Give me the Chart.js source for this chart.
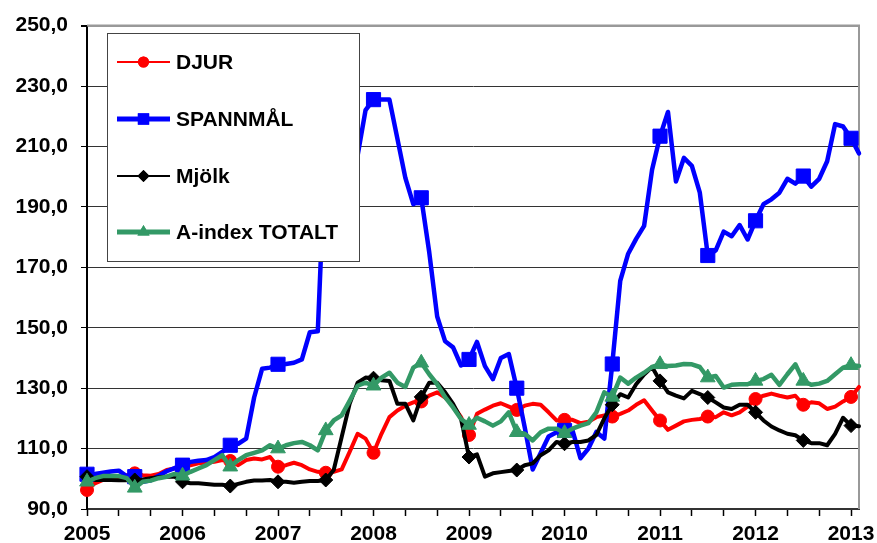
<!DOCTYPE html>
<html>
<head>
<meta charset="utf-8">
<script src="https://cdn.jsdelivr.net/npm/chart.js@4.4.1/dist/chart.umd.min.js"></script>
<style>
  body { margin: 0; background: #fff; }
  #wrap { width: 877px; height: 543px; }
</style>
</head>
<body>
<div id="wrap"><canvas id="chart" width="877" height="543"></canvas></div>
<script>
// tick labels (one per year) and months per year
const years = ['2005', '2006', '2007', '2008', '2009', '2010', '2011', '2012', '2013'];
const monthsInLastYear = 2; // Jan + Feb 2013

// monthly index values, Jan 2005 - Feb 2013
const djur = [
  96.3, 98.5, 99.6, 99.8, 99.6, 101.2, 101.8, 101.2, 101.0, 101.6, 102.9, 103.4,
  104.0, 104.5, 105.1, 105.3, 105.6, 106.2, 105.9, 104.5, 106.2, 106.7, 106.4, 107.2,
  104.0, 104.5, 105.3, 104.5, 103.1, 102.3, 102.0, 102.3, 103.1, 108.9, 114.9, 113.3,
  108.6, 114.9, 120.4, 122.6, 124.2, 125.3, 125.6, 127.5, 128.6, 126.9, 124.2, 120.4,
  114.5, 121.5, 122.9, 124.2, 125.0, 123.9, 122.8, 124.2, 124.8, 124.5, 122.0, 119.3,
  119.5, 119.5, 118.4, 118.9, 120.4, 121.0, 120.6, 121.5, 122.6, 124.5, 126.0, 122.6,
  119.3, 116.2, 117.6, 119.0, 119.5, 119.8, 120.6, 120.4, 122.0, 121.0, 122.0, 123.9,
  126.4, 127.5, 128.2, 127.5, 126.9, 127.5, 124.5, 125.3, 125.0, 123.1, 123.9, 125.6,
  127.1, 130.4
];
const spannmal = [
  101.5, 101.6, 102.0, 102.4, 102.7, 100.8, 100.7, 99.0, 99.5, 101.0, 102.5, 103.5,
  104.5, 105.6, 106.0, 106.2, 107.2, 108.9, 111.1, 111.6, 113.3, 126.9, 136.4, 136.8,
  137.9, 138.0, 138.4, 139.5, 148.5, 148.8, 212.0, 208.0, 205.0, 204.0, 207.0, 222.0,
  225.5, 225.5, 225.5, 212.6, 199.6, 190.9, 193.0, 175.0, 153.7, 145.5, 143.5, 137.5,
  139.5, 145.3, 137.3, 133.0, 140.0, 141.3, 130.0, 117.0, 103.1, 108.5, 114.0, 115.4,
  116.0, 116.0, 106.8, 110.0, 115.5, 113.3, 138.0, 165.5, 174.5, 179.4, 183.7, 202.3,
  213.4, 221.4, 198.4, 206.2, 203.6, 194.7, 173.9, 175.6, 181.8, 180.3, 184.0, 179.2,
  185.4, 190.9, 192.5, 194.7, 199.3, 197.7, 200.2, 196.7, 199.3, 205.1, 217.4, 216.6,
  212.7, 207.7
];
const mjolk = [
  100.7, 99.6, 99.6, 99.6, 99.5, 99.5, 99.6, 99.8, 100.2, 100.5, 100.7, 100.7,
  99.0, 98.5, 98.5, 98.3, 98.0, 98.0, 97.6, 98.3, 99.0, 99.4, 99.4, 99.6,
  99.0, 99.0, 98.7, 99.0, 99.3, 99.3, 99.6, 102.9, 113.8, 124.8, 131.8, 133.5,
  133.3, 132.6, 132.4, 124.8, 124.8, 119.3, 127.1, 131.8, 131.8, 128.6, 124.8, 119.8,
  107.2, 108.1, 100.7, 101.8, 102.2, 102.6, 102.9, 104.5, 105.1, 107.8, 109.4, 112.2,
  111.6, 112.2, 112.2, 112.7, 114.5, 120.0, 124.5, 128.0, 126.9, 131.3, 134.5, 137.0,
  132.4, 128.6, 127.5, 126.6, 129.1, 128.0, 126.9, 125.3, 123.6, 123.1, 124.5, 124.5,
  122.0, 119.3, 117.3, 116.0, 114.9, 114.4, 112.7, 111.8, 111.8, 111.1, 114.9, 120.2,
  117.6, 117.4
];
const atotalt = [
  99.0, 100.2, 100.9, 100.9, 100.9, 100.2, 97.0, 99.0, 99.4, 100.2, 100.7, 101.6,
  101.0, 102.3, 103.4, 104.5, 106.2, 107.8, 104.0, 106.2, 107.8, 108.6, 109.4, 111.1,
  110.0, 111.1, 111.8, 112.2, 111.1, 109.4, 116.0, 119.3, 121.0, 125.8, 130.8, 131.8,
  130.8, 133.5, 135.1, 131.8, 130.4, 136.8, 138.4, 134.6, 131.3, 127.0, 123.6, 119.8,
  117.8, 120.2, 119.0, 117.6, 119.0, 122.0, 115.4, 114.9, 112.7, 115.4, 116.6, 116.6,
  115.1, 116.6, 117.6, 118.4, 122.0, 128.6, 127.1, 133.5, 131.5, 133.5, 135.1, 137.0,
  137.9, 137.3, 137.5, 138.0, 137.9, 137.0, 133.5, 134.0, 130.2, 131.1, 131.3, 131.3,
  132.4, 133.0, 134.4, 131.1, 134.6, 137.9, 132.4, 131.1, 131.5, 132.4, 134.6, 136.8,
  137.6, 137.3
];

// month categories built from the year labels
const months = [];
years.forEach((y, k) => {
  const n = k === years.length - 1 ? monthsInLastYear : 12;
  for (let m = 1; m <= n; m++) months.push(y + '-' + String(m).padStart(2, '0'));
});

Chart.defaults.font.family = 'Arial, "Liberation Sans", sans-serif';
Chart.defaults.font.weight = 'bold';
Chart.defaults.font.size = 21;
Chart.defaults.color = '#000';

// markers only every 6 months
function markers(r) {
  return months.map((m, i) => (i % 6 === 0 ? r : 0));
}

function series(label, data, color, width, style, radius, order) {
  return {
    label: label,
    data: data,
    borderColor: color,
    backgroundColor: color,
    borderWidth: width,
    pointStyle: style,
    pointRadius: markers(radius),
    pointHoverRadius: markers(radius),
    pointBackgroundColor: color,
    pointBorderColor: color,
    pointBorderWidth: 1,
    borderJoinStyle: 'round',
    borderCapStyle: 'round',
    tension: 0,
    order: order
  };
}

const datasets = [
  series('DJUR', djur, '#ff0000', 4, 'circle', 6.5, 3),
  series('SPANNMÅL', spannmal, '#0000ff', 4.5, 'rect', 10, 2),
  series('Mjölk', mjolk, '#000000', 4, 'rectRot', 7, 1),
  series('A-index TOTALT', atotalt, '#339966', 4.5, 'triangle', 8.5, 0)
];

// legend samples as in the original
const legendLines = [2, 5, 2, 5];
const legendRadius = [5.5, 8, 6, 7];

// =========================
// FRAME + LEGEND
// =========================
const framePlugin = {
  id: 'frame',
  beforeDatasetsDraw(chart) {
    const { ctx, chartArea } = chart;
    ctx.save();
    ctx.strokeStyle = '#999';
    ctx.lineWidth = 2;
    ctx.beginPath();
    ctx.moveTo(chartArea.left, chartArea.top);
    ctx.lineTo(chartArea.right, chartArea.top);
    ctx.lineTo(chartArea.right, chartArea.bottom);
    ctx.stroke();
    ctx.restore();
  },
  afterDatasetsDraw(chart) {
    const ctx = chart.ctx;
    const box = { x: 107, y: 33, w: 252, h: 228 };
    ctx.save();
    ctx.fillStyle = '#fff';
    ctx.fillRect(box.x, box.y, box.w, box.h);
    ctx.strokeStyle = '#444';
    ctx.lineWidth = 1;
    ctx.strokeRect(box.x + 0.5, box.y + 0.5, box.w, box.h);

    const rowY = [62, 119, 176, 232];
    datasets.forEach((ds, k) => {
      const y = rowY[k];
      ctx.strokeStyle = ds.borderColor;
      ctx.lineWidth = legendLines[k];
      ctx.beginPath();
      ctx.moveTo(117, y);
      ctx.lineTo(170, y);
      ctx.stroke();
      ctx.fillStyle = ds.borderColor;
      Chart.helpers.drawPoint(ctx, { pointStyle: ds.pointStyle, radius: legendRadius[k], borderWidth: 0 }, 143.5, y);
      ctx.fill();
      ctx.fillStyle = '#000';
      ctx.font = 'bold 21px Arial, "Liberation Sans", sans-serif';
      ctx.textBaseline = 'middle';
      ctx.textAlign = 'left';
      ctx.fillText(ds.label, 176, y + 1);
    });
    ctx.restore();
  }
};

new Chart(document.getElementById('chart').getContext('2d'), {
  type: 'line',
  data: { labels: months, datasets: datasets },
  options: {
    responsive: false,
    animation: false,
    layout: { padding: { top: 23, right: 18, left: 0, bottom: 0 } },
    plugins: { legend: { display: false }, tooltip: { enabled: false } },
    scales: {
      x: {
        type: 'category',
        afterFit: (s) => { s.height = 34; },
        grid: {
          drawOnChartArea: false,
          tickLength: 7,
          tickWidth: 1.5,
          tickColor: (c) => (c.index % 4 === 0 ? '#000' : 'rgba(0,0,0,0)')
        },
        border: { color: '#333', width: 2 },
        ticks: {
          autoSkip: false,
          maxRotation: 0,
          minRotation: 0,
          padding: 6,
          callback: (v, i) => (i % 12 === 0 ? years[i / 12] : '')
        }
      },
      y: {
        min: 90,
        max: 250,
        afterFit: (s) => { s.width = 87; },
        grid: {
          color: (c) => (c.tick && c.tick.value === 250 ? '#999' : '#333'),
          lineWidth: (c) => (c.tick && c.tick.value === 250 ? 2 : 1),
          tickLength: 6,
          tickColor: '#000'
        },
        border: { color: '#000', width: 2 },
        ticks: {
          stepSize: 20,
          padding: 13,
          callback: (v) => v.toFixed(1).replace('.', ',')
        }
      }
    }
  },
  plugins: [framePlugin]
});
</script>
</body>
</html>
